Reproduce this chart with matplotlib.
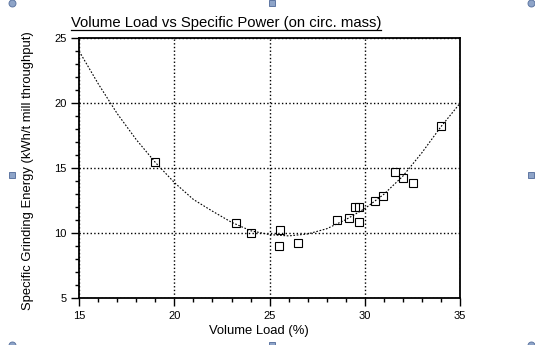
import matplotlib
matplotlib.use("Agg")
import matplotlib.pyplot as plt
from matplotlib.lines import Line2D
from matplotlib.ticker import MultipleLocator

plt.rcParams['font.family'] = ['Liberation Sans', 'DejaVu Sans']

# measured points (volume load %, specific energy)
load_pts = [19.0, 23.22, 24.02, 25.57, 25.48, 26.49, 28.52, 29.15, 29.70, 29.49,
            29.71, 30.54, 30.97, 31.59, 31.99, 32.53, 33.99]
energy_pts = [15.48, 10.79, 10.05, 10.23, 9.02, 9.23, 11.02, 11.2, 10.89, 12.0,
              12.0, 12.51, 12.89, 14.74, 14.23, 13.87, 18.28]

# trend curve
curve_x = [15, 16, 17, 18, 19, 20, 21, 22, 23, 24, 25, 26, 27, 28, 29, 30, 31, 32, 33, 34, 35]
curve_y = [24.0, 21.5, 19.2, 17.2, 15.45, 13.9, 12.6, 11.7, 10.85, 10.2, 9.9, 9.8, 9.95,
           10.35, 11.05, 11.9, 13.0, 14.4, 16.2, 18.2, 20.0]

W, H = 535, 345
fig = plt.figure(figsize=(W / 100, H / 100), dpi=100)
ax = fig.add_axes([79.2 / W, 1 - 298.3 / H, (460 - 79.2) / W, (298.3 - 38.3) / H])

ax.plot(curve_x, curve_y, color='black', lw=0.8, dashes=(1.5, 1.5))
ax.plot(load_pts, energy_pts, linestyle='none', marker='s', markersize=5.2,
        markerfacecolor='none', markeredgecolor='black', markeredgewidth=0.8)

ax.set_xlim(15, 35)
ax.set_ylim(5, 25)
ax.xaxis.set_major_locator(MultipleLocator(5))
ax.xaxis.set_minor_locator(MultipleLocator(1))
ax.yaxis.set_major_locator(MultipleLocator(5))
ax.yaxis.set_minor_locator(MultipleLocator(1))
ax.tick_params(which='major', length=6, width=1, labelsize=8, pad=3)
ax.tick_params(which='minor', length=3, width=1)
ax.grid(True, which='major', color='black', linestyle=':', lw=1)
for s in ax.spines.values():
    s.set_linewidth(1.3)

ax.set_xlabel("Volume Load (%)", fontsize=9.4)
ax.set_ylabel("Specific Grinding Energy (kWh/t mill throughput)", fontsize=9.4)
ax.xaxis.set_label_coords(0.472, -0.103)
ax.yaxis.set_label_coords(-0.12, 0.49)

title = fig.text(71 / W, 1 - 27.3 / H, "Volume Load vs Specific Power (on circ. mass)",
                 fontsize=10.75, ha='left', va='baseline')
fig.canvas.draw()
bb = title.get_window_extent(fig.canvas.get_renderer())
uy = (H - 30.0) / H
fig.add_artist(Line2D([bb.x0 / W, bb.x1 / W], [uy, uy], color='black', lw=0.9,
                      transform=fig.transFigure))

# selection handles around the chart object
for hx, hy, mk in [(11.5, 3.3, 'o'), (272, 3, 's'), (530.5, 3.3, 'o'),
                   (11.5, 175, 's'), (530.5, 175, 's'),
                   (11.5, 345, 'o'), (272, 345, 's'), (530.5, 345, 'o')]:
    fig.add_artist(Line2D([hx / W], [1 - hy / H], marker=mk, markersize=5,
                          markerfacecolor='#8ea4c8', markeredgecolor='#5f77a3',
                          markeredgewidth=0.7, transform=fig.transFigure, clip_on=False))

fig.savefig("out.png", dpi=100)
